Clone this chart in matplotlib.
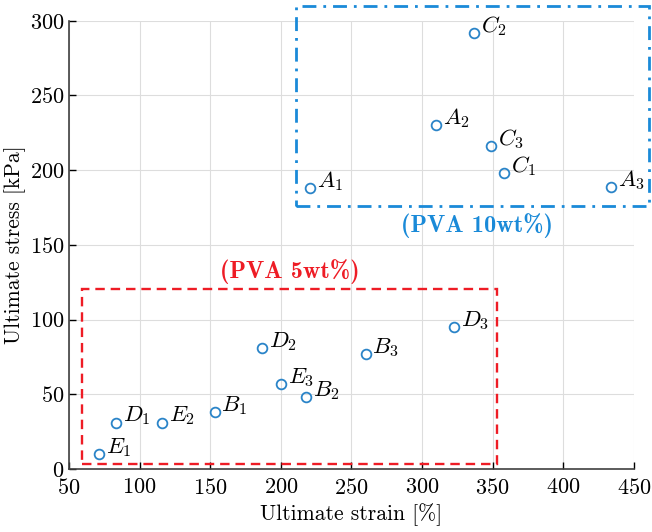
import matplotlib
matplotlib.use("Agg")
import matplotlib.pyplot as plt
from matplotlib.patches import Rectangle

plt.rcParams["font.family"] = "serif"
plt.rcParams["font.serif"] = ["cmr10", "DejaVu Serif"]
plt.rcParams["mathtext.fontset"] = "cm"
plt.rcParams["axes.formatter.use_mathtext"] = True

# sample labels and measured values
labels = ["A_1", "A_2", "A_3", "B_1", "B_2", "B_3", "C_1", "C_2", "C_3",
          "D_1", "D_2", "D_3", "E_1", "E_2", "E_3"]
strain = [221, 310, 434, 153, 218, 260, 358, 337, 349,
          83, 187, 323, 71, 116, 200]
stress = [188, 230, 189, 38, 48, 77, 198, 292, 216,
          31, 81, 95, 10, 31, 57]

xticks = [50, 100, 150, 200, 250, 300, 350, 400, 450]
yticks = [0, 50, 100, 150, 200, 250, 300]

marker_blue = "#2a84c8"
box_blue = "#1a8ad8"
box_red = "#ee1c25"

fig = plt.figure(figsize=(6.52, 5.32), dpi=100)
ax = fig.add_axes([0.106, 0.118, 0.866, 0.843])

ax.plot(strain, stress, "o", mfc="none", mec=marker_blue, ms=7, mew=1.3,
        zorder=3)
for lab, x, y in zip(labels, strain, stress):
    ax.annotate(f"${lab}$", (x, y), xytext=(5, 5), textcoords="offset points",
                fontsize=16.5, ha="left", va="center")

# group boxes
ax.add_patch(Rectangle((211, 176), 250, 134, fill=False, ec=box_blue, lw=2,
                       ls=(0, (5, 2.5, 1, 2.5)), clip_on=False, zorder=2))
ax.add_patch(Rectangle((59, 3.3), 294, 117, fill=False, ec=box_red, lw=1.7,
                       ls=(0, (4, 2.5)), clip_on=False, zorder=2))
ax.text(339, 163, "(PVA 10wt%)", color=box_blue, fontsize=17.5,
        fontfamily="cmb10", ha="center", va="center")
ax.text(206, 132.5, "(PVA 5wt%)", color=box_red, fontsize=17.5,
        fontfamily="cmb10", ha="center", va="center")

ax.set_xlim(50, 450)
ax.set_ylim(0, 300)
ax.set_xticks(xticks)
ax.set_yticks(yticks)
ax.tick_params(direction="in", labelsize=16, length=5, width=1)
ax.tick_params(axis="x", pad=6)
ax.grid(True, color="#dddddd", lw=0.8)
ax.set_axisbelow(True)
for side in ["top", "right"]:
    ax.spines[side].set_visible(False)
for side in ["left", "bottom"]:
    ax.spines[side].set_color("#404040")
    ax.spines[side].set_linewidth(1.2)
ax.set_xlabel("Ultimate strain [%]", fontsize=15.5, labelpad=4)
ax.set_ylabel("Ultimate stress [kPa]", fontsize=15.5, labelpad=3)

fig.savefig("out.png", dpi=100)
